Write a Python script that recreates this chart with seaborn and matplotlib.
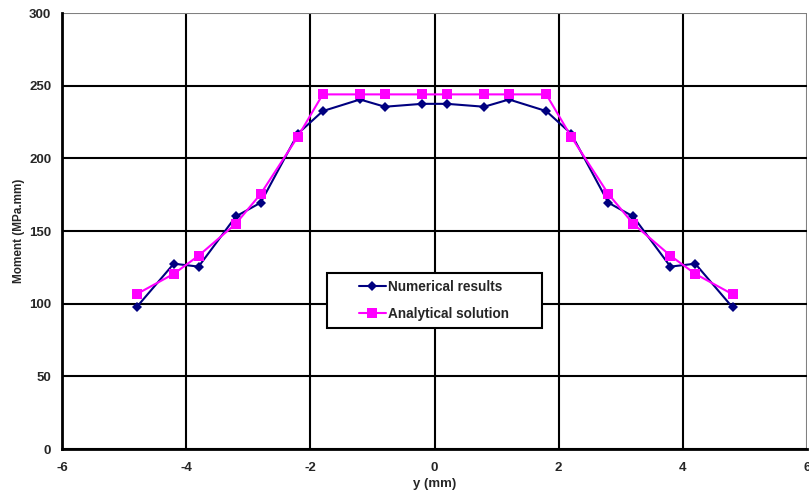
import pandas as pd
import numpy as np
import seaborn as sns
import matplotlib.pyplot as plt
from matplotlib.lines import Line2D
from matplotlib.legend_handler import HandlerLine2D

# data
y_mm = [-4.8, -4.2, -3.8, -3.2, -2.8, -2.2, -1.8, -1.2, -0.8, -0.2,
        0.2, 0.8, 1.2, 1.8, 2.2, 2.8, 3.2, 3.8, 4.2, 4.8]
numerical = [97.5, 127.5, 125.5, 160, 169.5, 217, 232.5, 240.5, 235.5, 237.5,
             237.5, 235.5, 240.5, 232.5, 217, 169.5, 160, 125.5, 127.5, 97.5]
analytical = [106.5, 120.5, 133, 155, 175.5, 215, 244, 244, 244, 244,
              244, 244, 244, 244, 215, 175.5, 155, 133, 120.5, 106.5]

series_names = ['Numerical results', 'Analytical solution']

df = pd.concat([
    pd.DataFrame({'y': y_mm, 'moment': numerical, 'series': series_names[0]}),
    pd.DataFrame({'y': y_mm, 'moment': analytical, 'series': series_names[1]}),
])

sns.set_style('white')
plt.rcParams['font.family'] = ['Liberation Sans', 'DejaVu Sans']
plt.rcParams['font.weight'] = 'bold'
plt.rcParams['axes.unicode_minus'] = False

fig = plt.figure(figsize=(8.09, 5.03), dpi=100)
ax = fig.add_axes([62/809, 1 - 449/503, 745/809, 436/503])

sns.lineplot(data=df, x='y', y='moment', hue='series', style='series',
             markers={series_names[0]: 'D', series_names[1]: 's'},
             dashes=False, palette={series_names[0]: '#000080', series_names[1]: '#FF00FF'},
             markersize=6, linewidth=1.5, markeredgewidth=0, ax=ax, zorder=3)

for line in ax.get_lines():
    if line.get_marker() == 'D':
        line.set_markersize(5.5)
    elif line.get_marker() == 's':
        line.set_markersize(7)

ax.set_xlim(-6, 6)
ax.set_ylim(0, 300)
ax.set_xticks(range(-6, 7, 2))
ax.set_yticks(range(0, 301, 50))
ax.grid(True, color='black', linewidth=1.5)
ax.set_axisbelow(True)
# plot-area border (top / right) is grey
ax.yaxis.get_gridlines()[-1].set_color('#808080')
ax.xaxis.get_gridlines()[-1].set_color('#808080')

for s in ['top', 'right']:
    ax.spines[s].set_visible(False)
for s in ['left', 'bottom']:
    ax.spines[s].set_color('black')
    ax.spines[s].set_linewidth(2)

ax.tick_params(direction='out', length=4.3, width=1.5, color='black', labelsize=9.5)
ax.tick_params(axis='x', pad=5)
ax.tick_params(axis='y', pad=3.5)
for lab in ax.get_xticklabels() + ax.get_yticklabels():
    lab.set_fontweight('bold')

ax.set_xlabel('y (mm)', fontsize=9.5, fontweight='bold', labelpad=3)
ax.set_ylabel('Moment (MPa.mm)', fontsize=8.5, fontweight='bold', labelpad=2.5)

handles, labels = ax.get_legend_handles_labels()
labels = [l + '       ' for l in labels]
leg = ax.legend(handles, labels, loc='lower left',
                bbox_to_anchor=((327 - 62) / 745, (449 - 328) / 436),
                frameon=True, fancybox=False, edgecolor='black', framealpha=1,
                prop={'weight': 'bold', 'size': 9.8}, borderpad=0.5,
                handlelength=3.8, handletextpad=0.15, labelspacing=0.95,
                borderaxespad=0, handler_map={Line2D: HandlerLine2D(xpad=1.84)})
leg.get_frame().set_linewidth(1.5)

fig.savefig('out.png', dpi=100)
